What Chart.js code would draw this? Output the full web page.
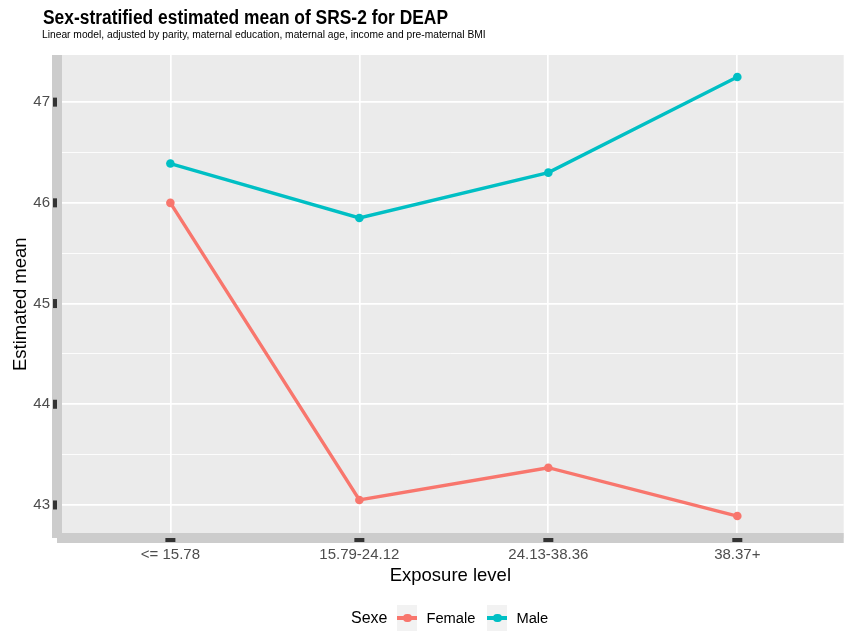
<!DOCTYPE html>
<html>
<head>
<meta charset="utf-8">
<script src="https://cdn.jsdelivr.net/npm/chart.js@4.4.1/dist/chart.umd.min.js"></script>
<style>
  body { margin: 0; background: #fff; }
  #wrap { position: relative; width: 848px; height: 632px; overflow: hidden; }
  #titulo { position: absolute; left: 43px; top: 6px; font: bold 19.5px "Liberation Sans", Arial, sans-serif; color: #000; white-space: nowrap; transform: scaleX(0.892); transform-origin: left top; }
  #subtitulo { position: absolute; left: 42px; top: 28.5px; font: 10.25px "Liberation Sans", Arial, sans-serif; color: #000; white-space: nowrap; }
  #leyenda { position: absolute; left: 351px; top: 605px; height: 26px; display: flex; align-items: center; font-family: "Liberation Sans", Arial, sans-serif; color: #000; white-space: nowrap; }
  #leyenda .tit { font-size: 16px; margin-right: 10px; }
  #leyenda .caja { position: relative; width: 20px; height: 26px; background: #F2F2F2; margin-right: 9px; }
  #leyenda .txt { font-size: 14.7px; margin-right: 12px; }
</style>
</head>
<body>
<div id="wrap">
  <canvas id="myChart" width="848" height="632"></canvas>
  <div id="titulo">Sex-stratified estimated mean of SRS-2 for DEAP</div>
  <div id="subtitulo">Linear model, adjusted by parity, maternal education, maternal age, income and pre-maternal BMI</div>
  <div id="leyenda"></div>
</div>
<script>
let myChart; // Variable global para el gráfico

const labels = ["<= 15.78", "15.79-24.12", "24.13-38.36", "38.37+"]; // Niveles de exposición
const female = [46.0, 43.05, 43.37, 42.89]; // Female
const male = [46.39, 45.85, 46.3, 47.25]; // Male
const yTicks = [43, 44, 45, 46, 47]; // Etiquetas del eje Y
const series = ["Female", "Male"];
const colores = ["#F8766D", "#00BFC4"];
const legendTitle = "Sexe";

const fuente = "'Liberation Sans', Arial, sans-serif";

// Fondo gris del panel (estilo ggplot)
const panelFondo = {
  id: "panelFondo",
  beforeDraw(chart) {
    const { ctx, chartArea } = chart;
    ctx.save();
    ctx.fillStyle = "#EBEBEB";
    ctx.fillRect(chartArea.left, chartArea.top, chartArea.right - chartArea.left, chartArea.bottom - chartArea.top);
    ctx.restore();
  },
};

// Líneas gruesas de los ejes y marcas
const ejes = {
  id: "ejes",
  afterDraw(chart) {
    const { ctx, chartArea, scales } = chart;
    ctx.save();
    ctx.fillStyle = "#CCCCCC";
    ctx.fillRect(chartArea.left - 5, chartArea.top, 10, chartArea.bottom - chartArea.top);
    ctx.fillRect(chartArea.left, chartArea.bottom - 5, chartArea.right - chartArea.left, 10);
    ctx.fillStyle = "#333333";
    yTicks.forEach((v) => {
      const y = scales.y.getPixelForValue(v);
      ctx.fillRect(chartArea.left - 4, y - 4.5, 4, 9);
    });
    labels.forEach((l, i) => {
      const x = scales.x.getPixelForValue(i + 1);
      ctx.fillRect(x - 5, chartArea.bottom, 10, 4);
    });
    ctx.restore();
  },
};

const ctx = document.getElementById("myChart").getContext("2d");

myChart = new Chart(ctx, {
  type: "line",
  data: {
    datasets: [
      {
        label: series[0],
        data: female.map((v, i) => ({ x: i + 1, y: v })),
        borderColor: colores[0],
        backgroundColor: colores[0],
        borderWidth: 3.4,
        pointRadius: 4.3,
        pointBorderWidth: 0,
        fill: false,
      },
      {
        label: series[1],
        data: male.map((v, i) => ({ x: i + 1, y: v })),
        borderColor: colores[1],
        backgroundColor: colores[1],
        borderWidth: 3.4,
        pointRadius: 4.3,
        pointBorderWidth: 0,
        fill: false,
      },
    ],
  },
  options: {
    responsive: false,
    animation: false,
    layout: { padding: { top: 55, left: 0, right: 0, bottom: 0 } },
    plugins: {
      legend: { display: false },
      tooltip: { enabled: false },
    },
    scales: {
      x: {
        type: "linear",
        min: 0.4,
        max: 4.563,
        afterBuildTicks: (scale) => {
          scale.ticks = labels.map((l, i) => ({ value: i + 1 }));
        },
        afterFit: (scale) => {
          scale.height = 94;
        },
        ticks: {
          callback: (value) => labels[value - 1],
          color: "#4D4D4D",
          font: { family: fuente, size: 15 },
          padding: 8,
          maxRotation: 0,
          autoSkip: false,
        },
        grid: { color: "#FFFFFF", lineWidth: 1.7, drawTicks: false },
        border: { display: false },
        title: {
          display: true,
          text: "Exposure level",
          color: "#000000",
          font: { family: fuente, size: 18.5 },
          padding: { top: 0, bottom: 45 },
        },
      },
      y: {
        type: "linear",
        min: 42.672,
        max: 47.468,
        afterBuildTicks: (scale) => {
          const t = [];
          yTicks.forEach((v, i) => {
            t.push({ value: v });
            if (i < yTicks.length - 1) t.push({ value: (v + yTicks[i + 1]) / 2 });
          });
          scale.ticks = t;
        },
        afterFit: (scale) => {
          scale.width = 57;
        },
        ticks: {
          callback: (value) => (yTicks.includes(value) ? value : ""),
          color: "#4D4D4D",
          font: { family: fuente, size: 15 },
          padding: 7,
        },
        grid: {
          color: "#FFFFFF",
          lineWidth: (c) => (yTicks.includes(c.tick.value) ? 1.7 : 0.85),
          drawTicks: false,
        },
        border: { display: false },
        title: {
          display: true,
          text: "Estimated mean   ", // espacios para bajar el texto un poco
          color: "#000000",
          font: { family: fuente, size: 18.5 },
          padding: { top: 9.5, bottom: 0 },
        },
      },
    },
  },
  plugins: [panelFondo, ejes],
});

// Leyenda al estilo ggplot
const leyenda = document.getElementById("leyenda");
let html = `<span class="tit">${legendTitle}</span>`;
series.forEach((s, i) => {
  html += `<span class="caja"><span style="position:absolute;left:0;right:0;top:11.3px;height:3.4px;background:${colores[i]}"></span><span style="position:absolute;left:5.7px;top:8.7px;width:8.6px;height:8.6px;border-radius:50%;background:${colores[i]}"></span></span><span class="txt">${s}</span>`;
});
leyenda.innerHTML = html;
</script>
</body>
</html>
